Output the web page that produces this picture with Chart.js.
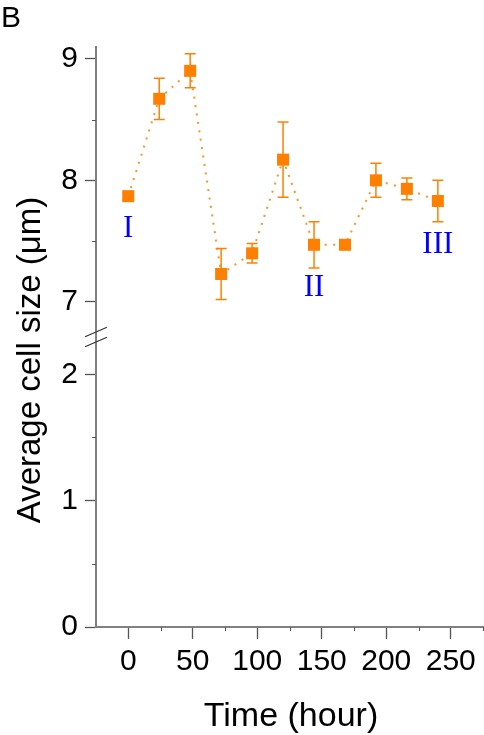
<!DOCTYPE html>
<html>
<head>
<meta charset="utf-8">
<script src="https://cdn.jsdelivr.net/npm/chart.js@4"></script>
<style>
  html, body { margin: 0; padding: 0; background: #fff; }
  #wrap { position: relative; width: 484px; height: 735px; }
</style>
</head>
<body>
<div id="wrap"><canvas id="chart" width="484" height="735"></canvas></div>
<script>
// === Data ===
const times = [0, 24, 48, 72, 96, 120, 144, 168, 192, 216, 240];
const sizes = [7.87, 8.67, 8.90, 7.23, 7.40, 8.17, 7.47, 7.47, 8.00, 7.93, 7.83];
const errors = [0.03, 0.17, 0.14, 0.21, 0.08, 0.31, 0.19, 0.03, 0.14, 0.09, 0.17];

const xTicks = [0, 50, 100, 150, 200, 250];
const xMinor = [25, 75, 125, 175, 225, 275];
const yTopTicks = [7, 8, 9];
const yTopMinor = [7.5, 8.5];
const yBotTicks = [0, 1, 2];
const yBotMinor = [0.5, 1.5];

const phaseNames = ['I', 'II', 'III'];
const phaseX = [0, 144, 240];
const phaseY = [7.60, 7.12, 7.47];

const SANS = '"Liberation Sans", Arial, sans-serif';
const SERIF = '"Liberation Serif", "Times New Roman", serif';
const ORANGE = '#FF8000';
const AXIS = '#808080';
const TICK = '#555555';

// === Error bars, minor ticks, axis break, labels ===
const extras = {
  id: 'extras',
  beforeDatasetsDraw(chart) {
    const ctx = chart.ctx;
    const x = chart.scales.x, y = chart.scales.yTop;
    ctx.save();
    ctx.strokeStyle = ORANGE;
    ctx.lineWidth = 1.5;
    times.forEach((t, i) => {
      const px = x.getPixelForValue(t);
      const top = y.getPixelForValue(sizes[i] + errors[i]);
      const bot = y.getPixelForValue(sizes[i] - errors[i]);
      ctx.beginPath();
      ctx.moveTo(px, top); ctx.lineTo(px, bot);
      ctx.moveTo(px - 5.5, top); ctx.lineTo(px + 5.5, top);
      ctx.moveTo(px - 5.5, bot); ctx.lineTo(px + 5.5, bot);
      ctx.stroke();
    });
    ctx.restore();
  },
  afterDraw(chart) {
    const ctx = chart.ctx;
    const area = chart.chartArea;
    const x = chart.scales.x, yT = chart.scales.yTop, yB = chart.scales.yBot;
    ctx.save();

    // minor ticks
    ctx.strokeStyle = TICK;
    ctx.lineWidth = 1;
    ctx.beginPath();
    xMinor.forEach(v => {
      const px = Math.round(x.getPixelForValue(v)) + 0.5;
      ctx.moveTo(px, area.bottom); ctx.lineTo(px, area.bottom + 4);
    });
    yTopMinor.forEach(v => {
      const py = Math.round(yT.getPixelForValue(v)) + 0.5;
      ctx.moveTo(area.left, py); ctx.lineTo(area.left - 4, py);
    });
    yBotMinor.forEach(v => {
      const py = Math.round(yB.getPixelForValue(v)) + 0.5;
      ctx.moveTo(area.left, py); ctx.lineTo(area.left - 4, py);
    });
    ctx.stroke();

    // axis break marks
    const by = yB.top;
    ctx.strokeStyle = '#333';
    ctx.lineWidth = 1.2;
    ctx.beginPath();
    [-5, 5].forEach(d => {
      ctx.moveTo(area.left - 11, by + d + 4.7);
      ctx.lineTo(area.left + 11, by + d - 4.7);
    });
    ctx.stroke();

    // phase labels
    ctx.fillStyle = '#0000FF';
    ctx.font = '31px ' + SERIF;
    ctx.textAlign = 'center';
    ctx.textBaseline = 'middle';
    phaseNames.forEach((n, i) => {
      ctx.fillText(n, x.getPixelForValue(phaseX[i]), yT.getPixelForValue(phaseY[i]));
    });

    // titles
    ctx.fillStyle = '#000';
    ctx.font = '34px ' + SANS;
    ctx.textBaseline = 'alphabetic';
    ctx.fillText('Time (hour)', 291, 726);
    ctx.save();
    ctx.translate(40, 360);
    ctx.rotate(-Math.PI / 2);
    ctx.font = '33px ' + SANS;
    ctx.fillText('Average cell size (\u03BCm)', 0, 0);
    ctx.restore();

    ctx.textAlign = 'left';
    ctx.font = '30px ' + SANS;
    ctx.fillText('B', 1, 27);
    ctx.restore();
  }
};

function yScale(min, max, ticks) {
  return {
    type: 'linear',
    position: 'left',
    stack: 'cell',
    stackWeight: 1,
    min, max,
    afterBuildTicks: s => { s.ticks = ticks.map(v => ({ value: v })); },
    afterFit: s => { s.width = 96; s.paddingTop = 0; s.paddingBottom = 0; },
    grid: { drawOnChartArea: false, drawTicks: true, tickLength: 11, tickColor: TICK, tickWidth: 1.3 },
    border: { display: true, color: AXIS, width: 2 },
    ticks: { color: '#000', font: { family: SANS, size: 30 }, padding: 7 }
  };
}

new Chart(document.getElementById('chart'), {
  type: 'line',
  data: {
    datasets: [{
      data: times.map((t, i) => ({ x: t, y: sizes[i] })),
      yAxisID: 'yTop',
      borderColor: 'rgba(255,128,0,0.85)',
      borderWidth: 2,
      borderDash: [2, 6.5],
      tension: 0,
      fill: false,
      pointStyle: 'rect',
      pointRadius: 8.5,
      pointBackgroundColor: ORANGE,
      pointBorderColor: ORANGE,
      pointBorderWidth: 0
    }]
  },
  options: {
    responsive: false,
    devicePixelRatio: 1,
    animation: false,
    layout: { autoPadding: false, padding: { top: 47, right: 1, left: 0, bottom: 0 } },
    plugins: { legend: { display: false }, tooltip: { enabled: false } },
    scales: {
      x: {
        type: 'linear',
        min: -25, max: 275,
        afterBuildTicks: s => { s.ticks = xTicks.map(v => ({ value: v })); },
        afterFit: s => { s.height = 108; s.paddingLeft = 0; s.paddingRight = 0; },
        grid: { drawOnChartArea: false, drawTicks: true, tickLength: 12, tickColor: TICK, tickWidth: 1.3 },
        border: { display: true, color: AXIS, width: 2 },
        ticks: { color: '#000', font: { family: SANS, size: 30 }, padding: 5, maxRotation: 0 }
      },
      yBot: yScale(0, 2.295, yBotTicks),
      yTop: yScale(6.712, 9.096, yTopTicks)
    }
  },
  plugins: [extras]
});
</script>
</body>
</html>
